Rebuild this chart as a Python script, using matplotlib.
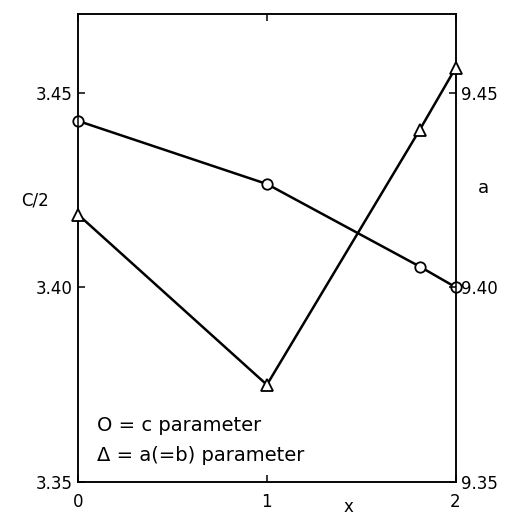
import matplotlib
matplotlib.use("Agg")
import matplotlib.pyplot as plt

# c/2 (left axis) and a (right axis) lattice parameters vs x
x_c = [0, 1, 1.81, 2]
c_half = [3.4427, 3.4265, 3.4053, 3.4000]

x_a = [0, 1, 1.81, 2]
a_par = [9.4186, 9.3749, 9.4404, 9.4563]

left_ticks = [3.35, 3.40, 3.45]
left_labels = ["3.35", "3.40", "3.45"]
right_ticks = [9.35, 9.40, 9.45]
right_labels = ["9.35", "9.40", "9.45"]
x_ticks = [0, 1, 2]
x_labels = ["0", "1", "2"]

plt.rcParams['font.family'] = ['DejaVu Sans']
fig = plt.figure(figsize=(5.05, 5.16), dpi=100)
ax = fig.add_axes([0.155, 0.0665, 0.747, 0.9064])
ax2 = ax.twinx()

ax.set_xlim(0, 2)
ax.set_ylim(3.35, 3.4702)
ax2.set_ylim(9.35, 9.4702)

ax.plot(x_c, c_half, color='black', lw=1.8, marker='o', ms=7.5,
        mfc='white', mec='black', mew=1.3, zorder=3, clip_on=False)
ax2.plot(x_a, a_par, color='black', lw=1.8, marker='^', ms=8.5,
         mfc='white', mec='black', mew=1.3, zorder=3, clip_on=False)

ax.set_xticks(x_ticks)
ax.set_xticklabels(x_labels)
ax.set_yticks(left_ticks)
ax.set_yticklabels(left_labels)
ax2.set_yticks(right_ticks)
ax2.set_yticklabels(right_labels)

ax.tick_params(axis='y', direction='in', length=5, width=1.1, pad=4, labelsize=12)
ax.tick_params(axis='x', direction='in', length=5, width=1.1, pad=8, labelsize=12,
               top=True)
ax2.tick_params(axis='y', direction='in', length=5, width=1.1, pad=4, labelsize=12)

for a in (ax, ax2):
    for s in a.spines.values():
        s.set_linewidth(1.1)

ax.text(-0.115, 0.602, "C/2", transform=ax.transAxes, fontsize=12,
        ha='center', va='center')
ax2.text(1.075, 0.628, "a", transform=ax.transAxes, fontsize=13,
         ha='center', va='center')
ax.text(0.715, -0.054, "x", transform=ax.transAxes, fontsize=12,
        ha='center', va='center')

ax.text(0.05, 0.121, "O = c parameter", transform=ax.transAxes, fontsize=14,
        ha='left', va='center')
ax.text(0.05, 0.057, "\u0394 = a(=b) parameter", transform=ax.transAxes,
        fontsize=14, ha='left', va='center')

fig.savefig("out.png", dpi=100)
